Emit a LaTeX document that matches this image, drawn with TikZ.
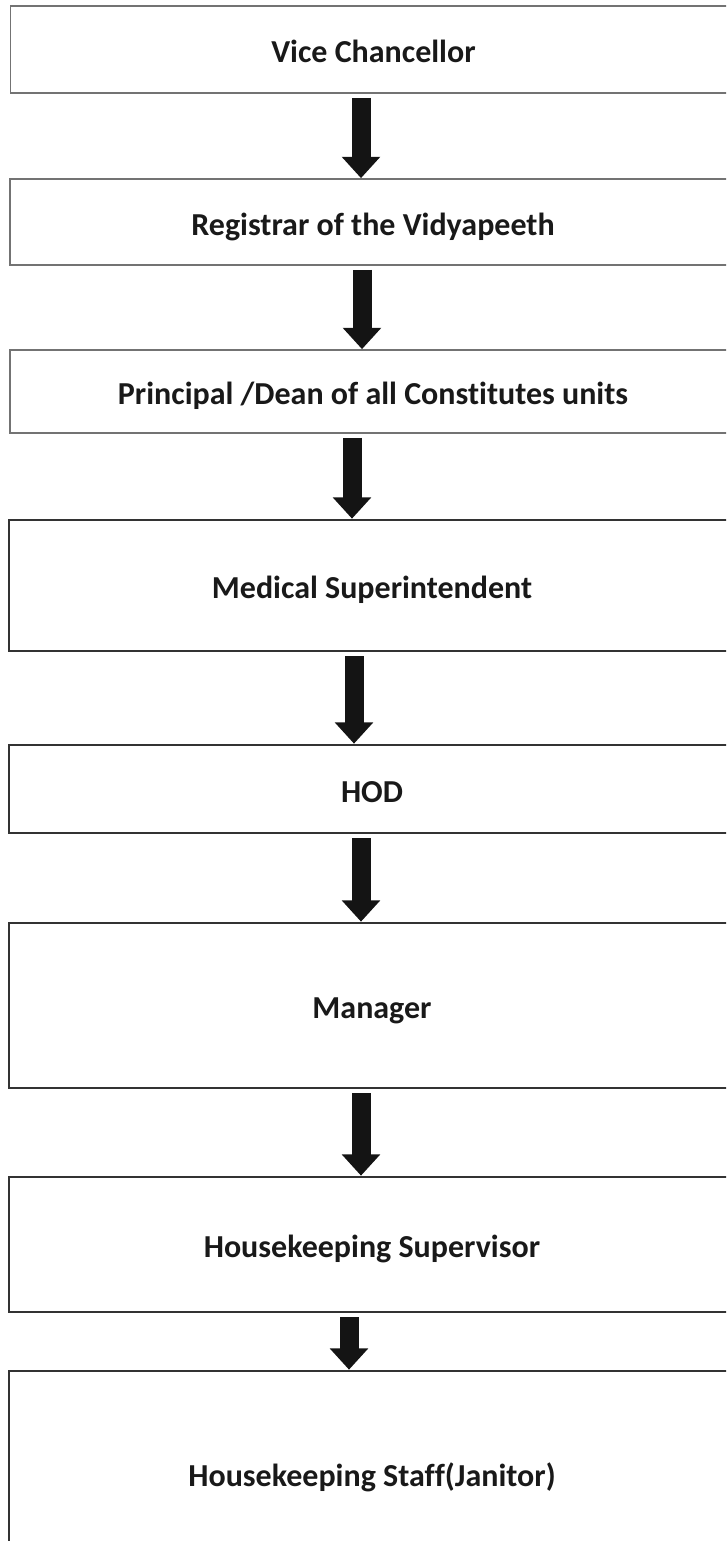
\documentclass[tikz,border=0pt]{standalone}
\usepackage{fontspec}
\setmainfont{Carlito}[Ligatures=NoCommon]
\usetikzlibrary{arrows.meta}

\begin{document}
\begin{tikzpicture}[x=0.75pt,y=-0.75pt,
  every node/.style={font=\fontsize{24pt}{29pt}\selectfont\bfseries, text=black!90},
  levelbox/.style={draw, rectangle, minimum width=544.5pt, inner sep=0pt,
    text height=24pt, text depth=4pt},
  thinbox/.style={levelbox, draw=black!55, line width=1.3pt},
  thickbox/.style={levelbox, draw=black!80, line width=2pt},
  downarrow/.style={line width=14.25pt, black!92, shorten <=3pt,
    -{Triangle[width=28pt,length=16pt]}}]

\useasboundingbox (0,0) rectangle (726,1541);
\clip (0,0) rectangle (726,1541);

% hierarchy levels
\node[thinbox,  minimum height=65.25pt]  (vc)    at (373.5,49.5)  {Vice Chancellor};
\node[thinbox,  minimum height=64.5pt]   (reg)   at (373,222)     {Registrar of the Vidyapeeth};
\node[thinbox,  minimum height=62.25pt]  (dean)  at (373,391.5)   {Principal /Dean of all Constitutes units};
\node[thickbox, minimum height=98.25pt]  (ms)    at (372,585.5)   {Medical Superintendent};
\node[thickbox, minimum height=66pt]     (hod)   at (372,789)     {HOD};
\node[thickbox, minimum height=123.75pt] (mgr)   at (372,1005.5)  {Manager};
\node[thickbox, minimum height=101.25pt] (hks)   at (372,1244.5)  {Housekeeping Supervisor};
\node[thickbox, minimum height=153pt]    (staff) at (372,1473)    {Housekeeping Staff(Janitor)};

% columns of the arrows
\coordinate (a1) at (361,0);
\coordinate (a2) at (362,0);
\coordinate (a3) at (352,0);
\coordinate (a4) at (354,0);
\coordinate (a5) at (361,0);
\coordinate (a6) at (361,0);
\coordinate (a7) at (349,0);

% reporting arrows
\draw[downarrow] (vc.south -| a1)   -- (reg.north -| a1);
\draw[downarrow] (reg.south -| a2)  -- (dean.north -| a2);
\draw[downarrow] (dean.south -| a3) -- (ms.north -| a3);
\draw[downarrow] (ms.south -| a4)   -- (hod.north -| a4);
\draw[downarrow] (hod.south -| a5)  -- (mgr.north -| a5);
\draw[downarrow] (mgr.south -| a6)  -- (hks.north -| a6);
\draw[downarrow] (hks.south -| a7)  -- (staff.north -| a7);
\end{tikzpicture}
\end{document}
